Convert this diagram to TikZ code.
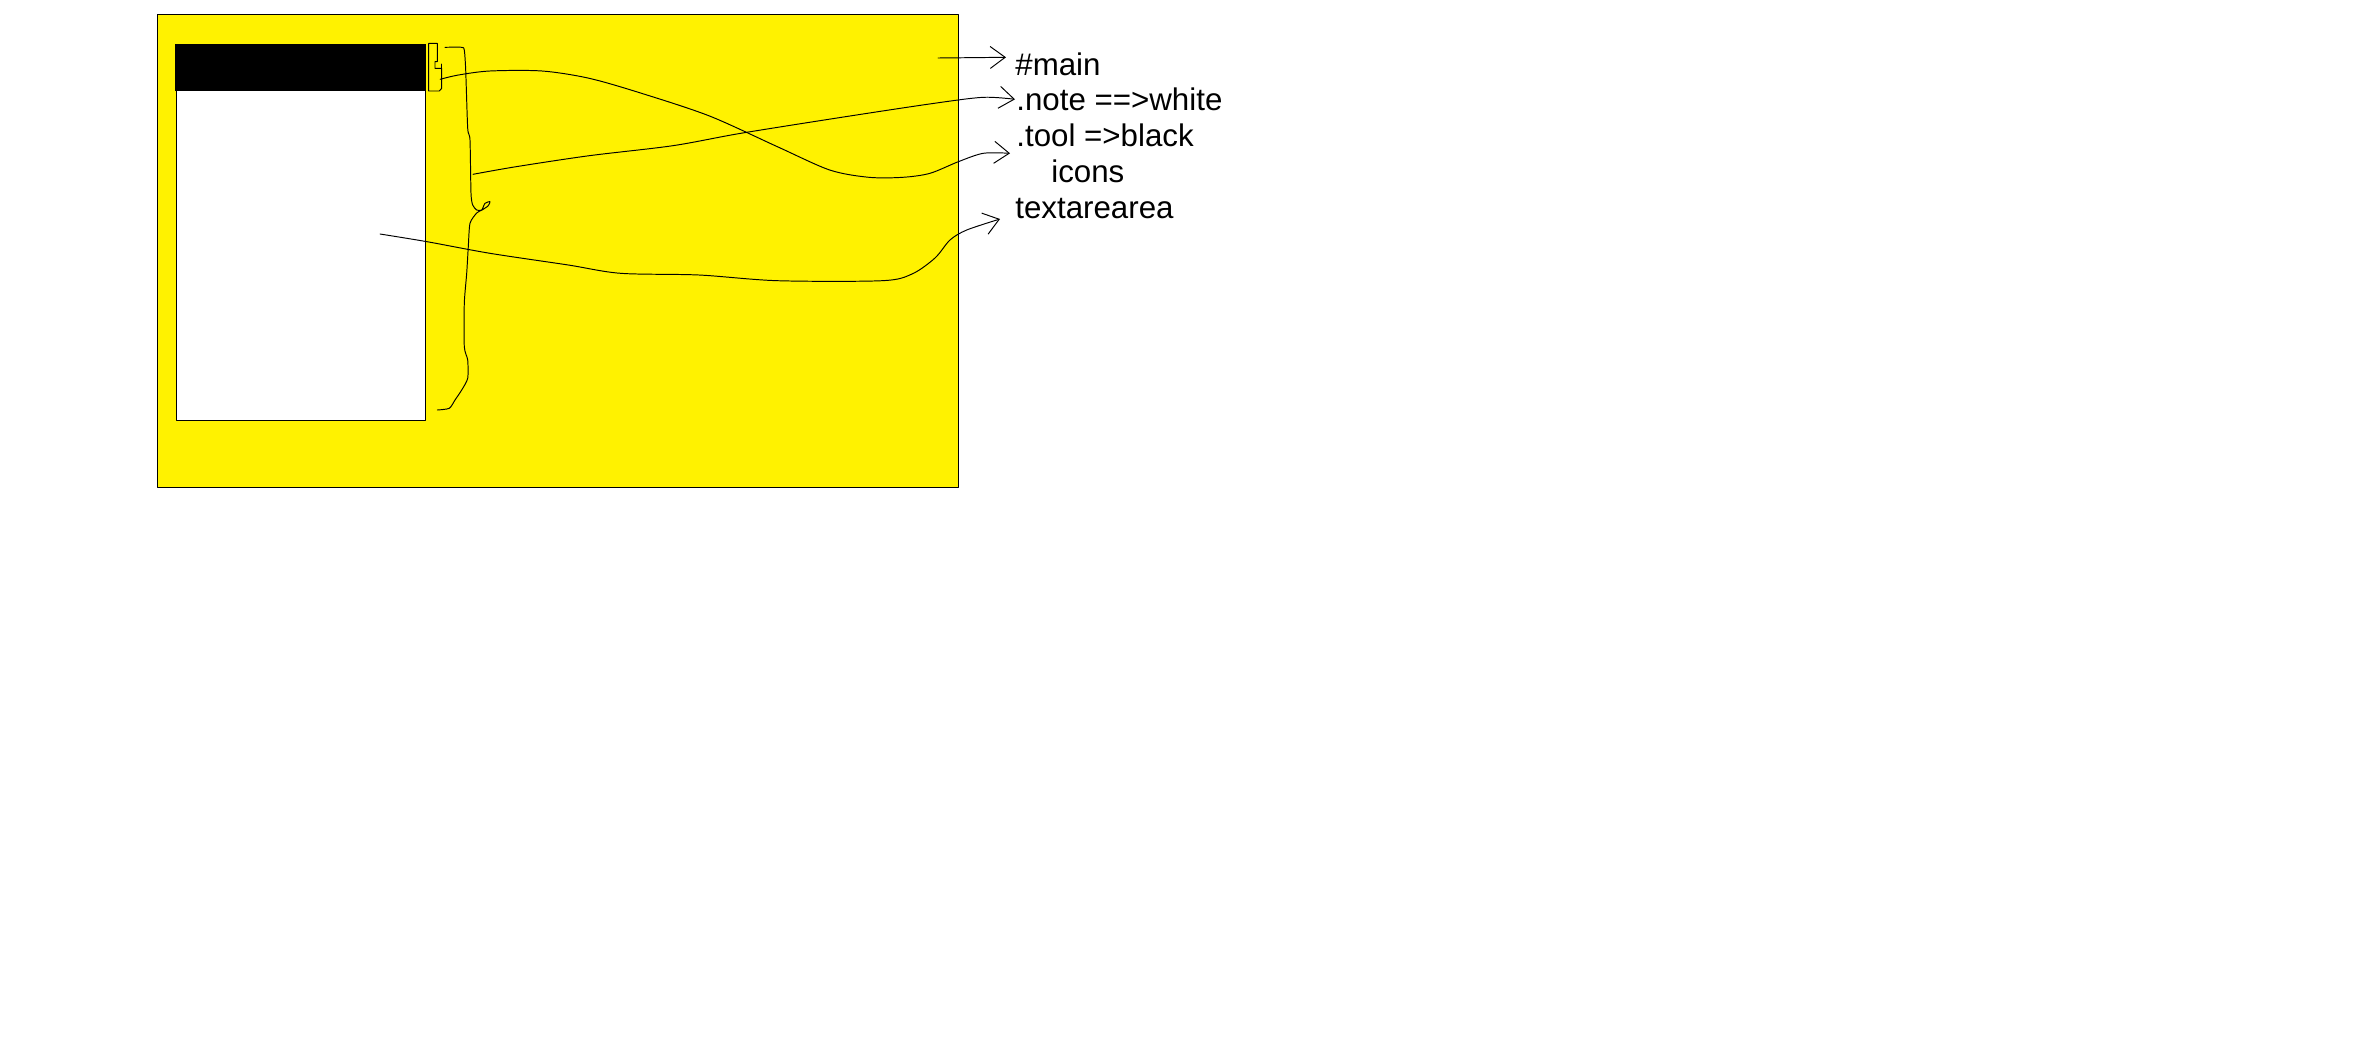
\documentclass[tikz,border=0pt]{standalone}
\usepackage{fontspec}
\setmainfont{Liberation Sans}
\usetikzlibrary{arrows.meta}
\definecolor{paintyellow}{RGB}{255,242,0}
\tikzset{
  sketch/.style={line width=0.55pt, line join=round, line cap=round},
  pointer/.style={sketch, -{Straight Barb[length=3mm,width=4.4mm,line width=0.55pt]}},
  tag/.style={anchor=base west, inner sep=0pt, font=\fontsize{17.8}{21}\selectfont},
}

\begin{document}
\begin{tikzpicture}[x=0.2mm, y=-0.2mm]
  \useasboundingbox (0,0) rectangle (2370,1046);

  % Main area, note and tool bar
  \draw[sketch, fill=paintyellow] (157,14) rectangle (958,487);
  \draw[sketch, fill=white] (176,44) rectangle (425,420);
  \fill (175,44) rectangle (426,91);
  \draw[sketch] (428.7,43.3) -- (437.3,43.3) -- (437.3,61.7) -- (435,61.7)
    -- (435,68.3) -- (441.7,68.3) -- (441.7,88.3) -- (439.3,91) -- (428.7,91) -- cycle;
  \draw[sketch] (441.7,64) -- (441.7,68.3);

  % Brace along the note
  \draw[sketch] plot[smooth, tension=0.4] coordinates {
    (445,47.3) (461.7,47.3) (464.3,50) (465.7,70) (467.7,128.3) (470,140)
    (471,193.3) (472.7,205) (476.7,210) (481.7,210) (485,203.3) (490,201.7)
    (488,206) (482,210) (476.7,213) (470,223.3) (468.3,246.7) (466.7,273.3)
    (464.3,303.3) (464.3,346.7) (467.7,360) (467.7,378.3) (461.7,390)
    (455,400) (449.3,408.3) (437.3,410)};

  % Labels
  \node[tag] (main) at (1015,75) {\#main};
  \node[tag] (note) at (1016,110) {.note ==>white};
  \node[tag] (tool) at (1016,146.7) {.tool =>black};
  \node[tag] (icons) at (1051,182.3) {icons};
  \node[tag] (textarea) at (1015,218.3) {textarearea};

  % Line ends
  \coordinate (mainFrom) at (938,58);
  \coordinate (mainTo) at (1006,57.3);
  \coordinate (noteFrom) at (473,174.3);
  \coordinate (noteTo) at (1015,99.3);
  \coordinate (toolFrom) at (440.2,79.3);
  \coordinate (toolTo) at (1010,153.3);
  \coordinate (textFrom) at (380,234);
  \coordinate (textTo) at (1000,219);

  % Pointers
  \draw[pointer] (mainFrom) -- (mainTo);
  \draw[pointer] plot[smooth, tension=0.5] coordinates {
    (noteFrom) (516,166.7) (589.2,155.7) (672.8,145.7) (740.8,133.3)
    (845.4,116.7) (934.3,103.3) (983.3,97.3) (noteTo)};
  \draw[pointer] plot[smooth, tension=0.5] coordinates {
    (toolFrom) (458.5,75) (489.9,71) (542.1,71) (589.2,78.3) (641.5,93.3)
    (709.5,116) (777.4,146.7) (829.7,170) (868.9,177.3) (902.9,177.3)
    (930,173.3) (958.3,161.7) (983.3,153.3) (toolTo)};
  \draw[pointer] plot[smooth, tension=0.5] coordinates {
    (textFrom) (427.1,241.7) (489.9,253.3) (568.3,265) (620.6,273.3)
    (699,275) (777.4,280.7) (882,280.7) (912,274) (935,258) (950,240)
    (966.7,230) (textTo)};
\end{tikzpicture}
\end{document}
